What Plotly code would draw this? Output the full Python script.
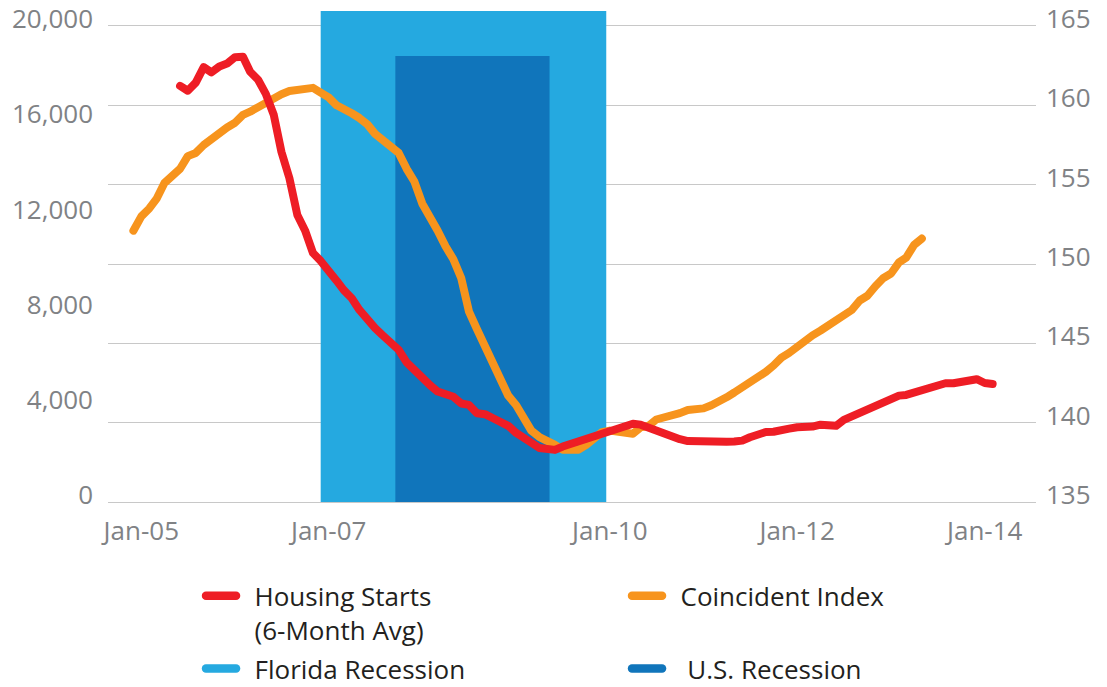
import plotly.graph_objects as go
import pandas as pd

# ---------------- data ----------------
coincident_start = "2004-12-01"
coincident_index = [
    152.1, 153.0, 153.5, 154.1, 155.1, 155.6, 156.0, 156.8, 157.0, 157.5,
    157.9, 158.3, 158.6, 158.9, 159.4, 159.6, 159.9, 160.1, 160.4, 160.7,
    160.9, 161.0, 161.1, 161.1, 160.8, 160.5, 160.0, 159.7, 159.5, 159.2,
    158.8, 158.2, 157.8, 157.5, 157.0, 156.0, 155.2, 153.8, 153.0, 152.1,
    151.1, 150.3, 149.1, 147.0, 145.9, 144.8, 143.9, 142.5, 141.7, 141.1,
    140.2, 139.5, 139.1, 138.9, 138.6, 138.3, 138.3, 138.3, 138.6, 139.0,
    139.4, 139.5, 139.4, 139.4, 139.3, 139.7, 139.8, 140.2, 140.3, 140.5,
    140.6, 140.8, 140.8, 140.9, 141.1, 141.4, 141.6, 141.9, 142.2, 142.6,
    142.9, 143.2, 143.6, 144.1, 144.4, 144.8, 145.2, 145.5, 145.8, 146.1,
    146.5, 146.8, 147.1, 147.7, 148.0, 148.6, 149.1, 149.4, 150.1, 150.4,
    151.2, 151.6,
]

housing_start = "2005-06-01"
housing_starts = [
    17480, 17280, 17620, 18270, 18050, 18300, 18420, 18690, 18710, 18080,
    17740, 17150, 16270, 14710, 13610, 12060, 11410, 10460, 10130, 9770,
    9300, 8900, 8560, 8070, 7630, 7310, 6990, 6640, 6390, 5870,
    5530, 5190, 4900, 4640, 4530, 4420, 4140, 4080, 3730, 3690,
    3530, 3370, 3200, 2900, 2640, 2490, 2270, 2200, 2190, 2330,
    2440, 2520, 2650, 2760, 2850, 2970, 3080, 3190, 3290, 3250,
    3110, 3000, 2870, 2740, 2640, 2560, 2540, 2530, 2530, 2520,
    2530, 2540, 2580, 2720, 2840, 2940, 2950, 2980, 3080, 3140,
    3140, 3170, 3250, 3250, 3200, 3450, 3590, 3690, 3840, 4040,
    4180, 4310, 4470, 4500, 4610, 4710, 4820, 4950, 4990, 4990,
    5050, 5160, 5160, 5000, 4960,
]

florida_recession = ["2006-12-01", "2009-12-18"]
us_recession = ["2007-09-18", "2009-05-11"]

x_tick_dates = ["2005-01-01", "2007-01-01", "2010-01-01", "2012-01-01", "2014-01-01"]
x_tick_labels = ["Jan-05", "Jan-07", "Jan-10", "Jan-12", "Jan-14"]
left_ticks = [0, 4000, 8000, 12000, 16000, 20000]
right_ticks = [135, 140, 145, 150, 155, 160, 165]

PAD = "\u00a0\u00a0"
series_names = [PAD + "Housing Starts<br>" + PAD + "(6-Month Avg)",
                PAD + "Coincident Index",
                PAD + "Florida Recession",
                PAD + " U.S. Recession"]

# ---------------- styles ----------------
RED = "#EE1D25"
ORANGE = "#F7941D"
LIGHT_BLUE = "#25A9E0"
DARK_BLUE = "#1075BB"
GRID = "#C8C8C8"
TICK_GRAY = "#808285"
TEXT = "#231F20"
FONT = "Open Sans"
RIGHT_TOP = 165.945
LEFT_TOP = 20630
US_BAR_TOP = 163.11

coincident_dates = pd.date_range(coincident_start, periods=len(coincident_index), freq="MS")
housing_dates = pd.date_range(housing_start, periods=len(housing_starts), freq="MS")

fig = go.Figure()

fig.add_trace(go.Scatter(
    x=coincident_dates, y=coincident_index, mode="lines", name=series_names[1],
    line=dict(color=ORANGE, width=8), yaxis="y", legend="legend", legendrank=2,
))
fig.add_trace(go.Scatter(
    x=[None], y=[None], mode="lines", name=series_names[2],
    line=dict(color=LIGHT_BLUE, width=8), yaxis="y", legend="legend2", legendrank=3,
))
fig.add_trace(go.Scatter(
    x=[None], y=[None], mode="lines", name=series_names[3],
    line=dict(color=DARK_BLUE, width=8), yaxis="y", legend="legend2", legendrank=4,
))
fig.add_trace(go.Scatter(
    x=housing_dates, y=housing_starts, mode="lines", name=series_names[0],
    line=dict(color=RED, width=8), yaxis="y2", legend="legend", legendrank=1,
))

fig.add_shape(type="rect", xref="x", yref="y",
              x0=florida_recession[0], x1=florida_recession[1], y0=135, y1=RIGHT_TOP,
              fillcolor=LIGHT_BLUE, line=dict(width=0), layer="between")
fig.add_shape(type="rect", xref="x", yref="y",
              x0=us_recession[0], x1=us_recession[1], y0=135, y1=US_BAR_TOP,
              fillcolor=DARK_BLUE, line=dict(width=0), layer="between")

legend_style = dict(
    orientation="h", xref="container", yref="container",
    x=0.1816, xanchor="left", yanchor="top",
    entrywidth=381, entrywidthmode="pixels", valign="top",
    font=dict(family=FONT, size=26, color=TEXT),
    itemwidth=30, bgcolor="rgba(0,0,0,0)", tracegroupgap=0,
)

fig.update_layout(
    width=1107, height=687,
    margin=dict(l=108, r=71, t=11, b=185, autoexpand=False),
    paper_bgcolor="white", plot_bgcolor="white",
    font=dict(family=FONT, size=26, color=TICK_GRAY),
    showlegend=True,
    legend=dict(legend_style, y=0.167),
    legend2=dict(legend_style, y=0.0611),
    xaxis=dict(
        type="date", range=["2004-08-24", "2014-07-20"],
        tickvals=x_tick_dates, ticktext=x_tick_labels,
        showgrid=False, zeroline=False, showline=True, linecolor=GRID, linewidth=1.3,
        ticks="", tickfont=dict(size=26, color=TICK_GRAY), ticklabelstandoff=6,
    ),
    yaxis=dict(
        side="right", range=[135, RIGHT_TOP], tickvals=right_ticks,
        showgrid=True, gridcolor=GRID, gridwidth=1.3, zeroline=False,
        ticks="", tickfont=dict(size=26, color=TICK_GRAY),
        ticklabelshift=-7, ticklabelstandoff=9,
    ),
    yaxis2=dict(
        side="left", overlaying="y", range=[0, LEFT_TOP], tickvals=left_ticks,
        tickformat=",", showgrid=False, zeroline=False,
        ticks="", tickfont=dict(size=26, color=TICK_GRAY),
        ticklabelshift=-7, ticklabelstandoff=14,
    ),
)

post = """
document.body.style.margin='0';
var s=document.createElement('style');
s.textContent='body{margin:0;} .scatterlayer .js-line, .legendlines path{stroke-linecap:round !important;stroke-linejoin:round !important;} .legendlines path{stroke-width:8.5px !important;}';
document.head.appendChild(s);
"""
fig.write_html("out.html", post_script=post, config={"displayModeBar": False})
